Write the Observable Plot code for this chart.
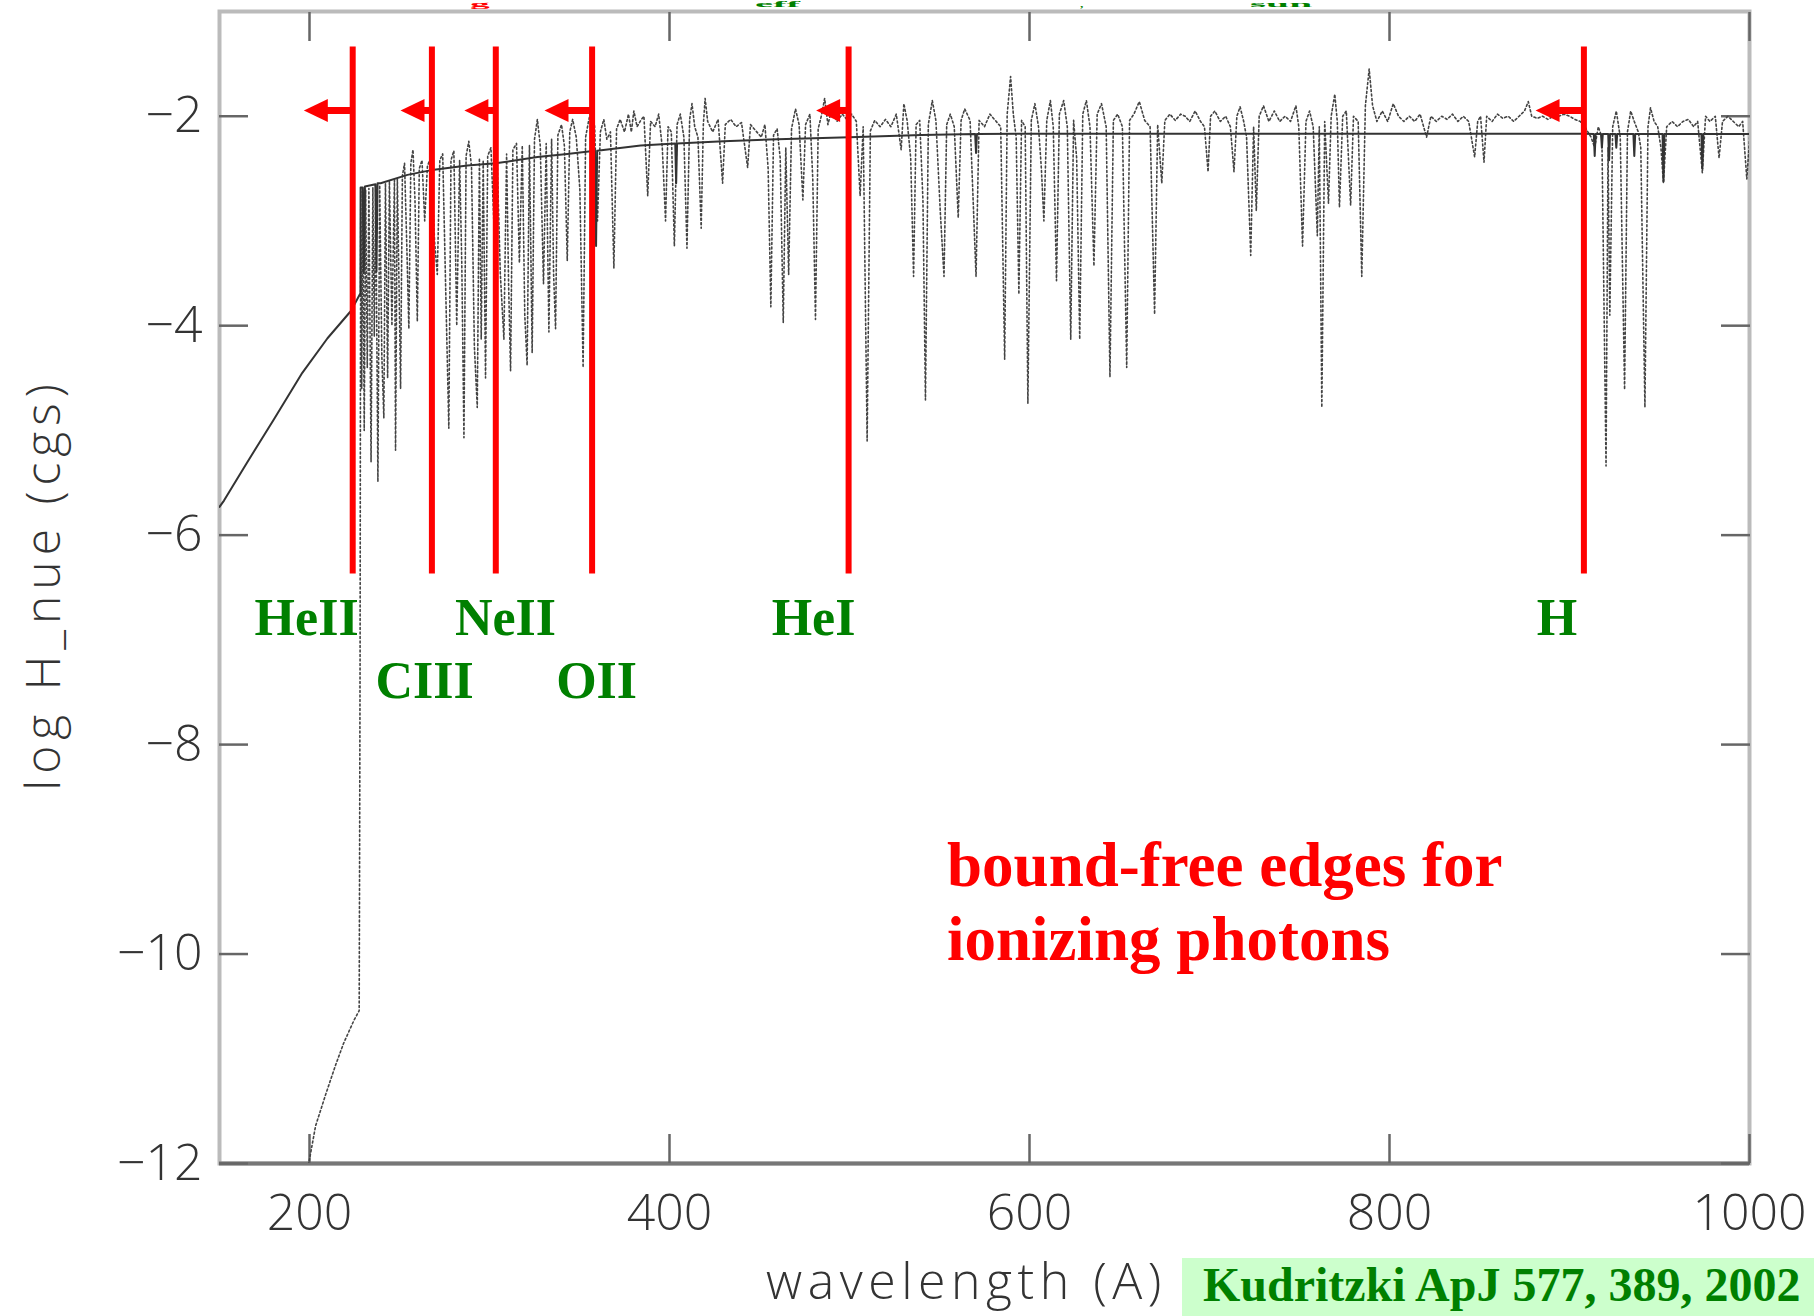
<!DOCTYPE html>
<html>
<head>
<meta charset="utf-8">
<script src="https://cdn.jsdelivr.net/npm/d3@7"></script>
<script src="https://cdn.jsdelivr.net/npm/@observablehq/plot@0.6"></script>
<style>
html, body { margin: 0; padding: 0; background: #fff; }
#wrap { position: relative; width: 1814px; height: 1316px; overflow: hidden; background: #fff; }
.frag { position: absolute; top: 0; font-family: "Liberation Serif", "Times New Roman", serif; font-weight: bold; line-height: 1; white-space: nowrap; font-size: 9px; transform-origin: 0 0; }
#ref { position: absolute; left: 1182px; top: 1258px; width: 632px; height: 58px; background: #ccffcc; }
#ref span { position: absolute; left: 21px; top: 3px; font-family: "Liberation Serif", "Times New Roman", serif; font-weight: bold; font-size: 48px; line-height: 1; color: #008000; white-space: nowrap; }
</style>
</head>
<body>
<div id="wrap"></div>
<script>
// ---------------- data ----------------
const xTicks = [200, 400, 600, 800, 1000];
const yTicks = [-2, -4, -6, -8, -10, -12];
const xDomain = [150, 1000];
const yDomain = [-12, -1];

const xTitle = "wavelength (A)";
const yTitle = "log H_nue (cgs)";
const noteText = "bound-free edges for\nionizing photons";
const noteWl = 554.2;
const noteLogH = -9.48;
const refText = "Kudritzki ApJ 577, 389, 2002";

// ionization edges (red markers) and labels
const edgeNames = ["HeII", "CIII", "NeII", "OII", "HeI", "H"];
const edgeWl = [224, 268, 303.5, 357, 499.5, 908];
const arrowShaftEndWl = [201.3, 255.0, 290.5, 335.0, 485.9, 885.6];
const labelWl = [198.4, 263.9, 308.9, 359.5, 480, 893];
const labelLogH = [-6.79, -7.40, -6.79, -7.40, -6.79, -6.79];
const edgeTopLogH = -1.34;
const edgeBottomLogH = -6.37;
const arrowLogH = -1.945;

// solid curve (continuum model): [wavelength, log H_nue]
const continuum = [
  [150,-5.73],[152.5,-5.67],[164.5,-5.33],[180,-4.9],[196,-4.45],[210,-4.12],[223,-3.86],[228.3,-3.69],
  [228.4,-2.68],[229.6,-2.68],[230.2,-3.5],[230.8,-2.67],[236.6,-2.65],[237.2,-3.48],[237.8,-2.64],[239.5,-2.64],
  [254.4,-2.56],[269.2,-2.51],[287.7,-2.47],[303.5,-2.45],[326.6,-2.39],[343.2,-2.36],[358.6,-2.33],[359.2,-3.24],
  [359.8,-2.33],[384,-2.28],[403.2,-2.26],[403.7,-2.64],[404.2,-2.26],[430,-2.24],[460,-2.22],[500,-2.2],[540,-2.18],
  [569.8,-2.17],[570.3,-2.35],[570.8,-2.17],[600,-2.167],[700,-2.167],[800,-2.167],[908,-2.167],
  [913.5,-2.17],[914,-2.38],[914.5,-2.17],[917.5,-2.17],[918,-2.3],[918.5,-2.17],[921.5,-2.17],[922,-2.42],[922.5,-2.17],
  [925.5,-2.17],[926,-2.3],[926.5,-2.17],[935.5,-2.17],[936,-2.38],[936.5,-2.17],[951.7,-2.17],[952.2,-2.62],[952.7,-2.17],
  [973.3,-2.17],[973.8,-2.5],[974.3,-2.17],[1000,-2.17]
];

// dotted curve (line-blanketed model): [wavelength, log H_nue]
const dottedSpectrum = [
  [198.5,-12.1],[203.4,-11.64],[209,-11.34],[214.5,-11.06],[219,-10.85],[224.5,-10.64],[227.6,-10.54],[227.8,-9.3],
  [228.1,-7.2],[228.3,-4.6],[228.5,-2.72],
  [229.0,-4.6],[229.6,-2.71],[230.4,-5.0],[231.2,-2.70],[232.1,-4.4],[233.0,-2.69],[234.2,-5.3],[235.2,-2.68],
  [236.0,-4.1],[236.8,-2.67],[238.0,-5.49],[239.0,-2.66],[240.2,-4.3],[241.3,-4.88],[242.2,-2.64],[243.4,-4.5],
  [244.4,-2.62],[245.8,-4.0],[247.2,-2.61],[247.8,-5.19],[248.8,-2.60],[250.0,-3.9],[250.6,-4.6],[251.6,-2.57],
  [252.8,-2.45],[254.0,-3.2],[255.2,-4.03],[256.3,-2.45],[257.5,-2.32],[258.6,-2.8],[259.9,-3.96],[261.0,-2.5],
  [262.5,-2.42],[264.0,-3.0],[265.5,-2.48],[267.5,-2.38],[269.5,-3.2],[271.0,-3.51],[272.4,-2.42],[274.0,-2.36],
  [275.6,-3.6],[277.4,-4.98],[278.6,-2.42],[280.2,-2.33],[281.8,-4.0],[283.4,-2.42],[284.6,-3.4],[285.8,-5.07],
  [287.0,-2.38],[288.5,-2.24],[290.0,-2.48],[291.6,-4.2],[293.2,-4.78],[294.4,-2.4],[295.4,-4.13],[296.5,-2.42],
  [297.8,-4.5],[299.0,-2.38],[300.8,-2.3],[302.4,-3.0],[304.2,-2.38],[306.0,-3.5],[308.0,-4.13],[309.5,-2.36],
  [310.6,-3.6],[311.7,-4.43],[313.0,-2.32],[315.0,-2.26],[316.6,-3.4],[318.2,-2.28],[319.6,-3.9],[320.9,-4.38],
  [322.2,-2.28],[323.7,-4.26],[325.0,-2.22],[326.6,-2.03],[328.2,-2.28],[330.0,-3.6],[331.5,-2.26],[333.0,-4.06],
  [334.5,-2.22],[335.6,-3.5],[336.7,-4.03],[338.0,-2.18],[340.0,-2.08],[341.6,-2.28],[343.2,-3.38],[344.6,-2.15],
  [346.2,-2.03],[348.2,-2.2],[350.2,-2.7],[352.0,-4.40],[353.4,-2.2],[355.0,-2.05],[356.8,-1.91],[358.4,-2.1],
  [360.0,-3.0],[361.6,-2.15],[363.5,-2.03],[365.2,-2.22],[367.2,-2.15],[369.1,-3.45],[370.6,-2.12],[372.6,-2.03],
  [375.0,-2.15],[377.2,-1.98],[378.8,-2.15],[380.2,-1.95],[382.0,-2.1],[384.0,-2.04],
  [385.8,-2.0],[387.9,-2.76],[389.5,-2.05],[392.0,-2.1],[394.0,-1.98],[396.0,-2.3],[397.8,-3.0],[399.2,-2.1],
  [401.0,-2.15],[402.7,-3.24],[404.2,-2.08],[406.0,-1.98],[408.0,-2.2],[409.7,-3.26],[411.2,-2.03],[412.5,-1.88],
  [414.0,-2.1],[415.8,-2.2],[417.6,-3.07],[418.8,-2.08],[419.8,-1.83],[421.2,-2.05],[424.0,-2.15],[427.0,-2.03],
  [429.5,-2.64],[431.0,-2.08],[434.0,-2.03],[437.0,-2.1],[440.0,-2.06],[443.4,-2.49],[445.0,-2.08],[448.0,-2.14],
  [451.0,-2.2],[453.0,-2.08],[454.8,-2.5],[456.3,-3.82],[457.8,-2.18],[459.8,-2.12],[461.5,-2.4],[463.2,-3.97],
  [464.6,-2.3],[466.2,-3.51],[467.8,-2.12],[470.0,-1.93],[472.0,-2.08],[474.1,-2.80],[475.6,-2.08],[478.0,-1.98],
  [479.6,-2.6],[481.1,-3.94],[482.6,-2.12],[484.6,-1.98],[486.2,-1.83],[488.0,-2.08],[490.2,-1.93],[493.0,-2.05],
  [496.0,-1.98],[499.0,-2.04],[501.2,-1.98],[503.8,-2.05],[505.9,-2.76],[507.6,-2.1],[509.8,-5.1],[511.6,-2.14],
  [514.0,-2.04],[517.0,-2.1],[520.0,-2.03],[523.0,-2.1],[526.0,-1.98],[528.7,-2.32],[530.2,-1.88],[532.0,-2.04],
  [534.0,-2.4],[535.6,-3.53],[537.0,-2.08],[539.0,-2.04],[540.8,-2.8],[542.2,-4.71],[543.8,-2.08],[546.0,-1.85],
  [548.0,-2.04],[550.4,-2.9],[552.5,-3.53],[554.0,-2.08],[556.0,-1.98],[558.2,-2.1],[560.4,-2.97],[562.0,-2.04],
  [564.0,-1.93],[567.0,-2.04],[570.3,-3.53],[572.0,-2.04],[575.0,-2.1],[578.0,-1.98],[581.0,-2.04],[584.0,-2.1],
  [586.2,-4.32],[587.6,-1.98],[589.5,-1.62],[591.0,-1.98],[592.6,-2.2],[594.1,-3.70],[595.6,-2.04],[597.6,-2.1],
  [599.1,-4.74],[601.0,-2.04],[603.0,-1.88],[605.0,-2.1],[606.6,-2.5],[608.0,-3.0],[609.6,-2.04],[611.6,-1.85],
  [613.2,-2.1],[615.0,-3.57],[616.6,-1.98],[619.0,-1.85],[621.0,-2.1],[622.9,-4.13],[624.5,-2.04],[626.2,-2.4],
  [627.9,-4.13],[629.6,-1.98],[631.6,-1.85],[633.6,-2.1],[635.8,-3.43],[637.6,-1.98],[640.0,-1.88],[642.6,-2.1],
  [644.7,-4.49],[646.6,-2.04],[649.0,-1.98],[651.6,-2.1],[654.0,-4.40],[655.6,-2.04],[658.0,-1.98],[661.0,-1.86],
  [664.0,-2.04],[667.0,-2.1],[669.5,-3.89],[671.2,-2.08],[673.5,-2.64],[675.2,-2.04],[678.0,-1.98],[681.0,-2.04],
  [684.0,-1.98],
  [686.5,-2.0],[689.0,-2.05],[692.0,-1.95],[695.0,-2.05],[697.2,-2.1],[699.2,-2.53],[700.6,-2.0],[703.0,-1.95],
  [706.0,-2.05],[709.0,-2.0],[711.6,-2.1],[713.6,-2.53],[715.2,-2.0],[717.0,-1.91],[719.0,-2.05],[720.6,-2.2],
  [722.9,-3.33],[724.5,-2.1],[726.0,-2.90],[727.6,-2.0],[730.0,-1.9],[733.0,-2.05],[736.0,-1.95],[739.0,-2.05],
  [742.0,-2.0],[745.0,-2.05],[748.0,-1.9],[749.6,-2.1],[751.7,-3.24],[753.6,-2.05],[755.6,-1.95],[757.6,-2.1],
  [759.9,-3.14],[761.0,-2.1],[762.4,-4.78],[764.0,-2.05],[766.1,-2.83],[767.6,-2.0],[769.6,-1.79],[771.0,-2.05],
  [772.2,-2.87],[774.0,-2.0],[776.0,-1.95],[778.4,-2.85],[780.0,-2.0],[782.6,-2.05],[784.6,-3.53],[786.6,-1.9],
  [788.7,-1.55],[790.6,-1.9],[793.0,-2.05],[796.0,-1.95],[799.0,-2.05],[802.1,-1.88],[805.0,-2.0],[808.0,-2.05],
  [811.0,-2.0],[814.0,-2.05],[817.0,-1.98],[820.6,-2.2],[823.0,-2.0],[826.0,-2.05],[829.0,-2.0],[832.0,-2.03],
  [835.0,-1.98],[838.0,-2.05],[841.0,-2.0],[844.0,-2.05],[847.3,-2.39],[849.0,-2.05],[850.6,-2.0],[852.5,-2.44],
  [854.0,-2.0],[857.0,-2.05],[860.0,-1.98],[863.0,-2.02],[866.0,-2.0],[869.0,-2.05],[872.0,-2.0],[875.0,-1.95],
  [877.1,-1.86],[879.0,-2.0],[882.0,-2.02],[885.0,-2.0],[888.0,-2.03],[891.0,-2.0],[894.0,-2.0],[897.0,-1.98],
  [900.0,-2.0],[903.0,-2.03],[906.0,-2.05],[908.6,-2.1],[910.2,-2.15],[912.0,-2.2],[914.0,-2.3],[916.0,-2.1],
  [918.0,-2.2],[920.3,-5.34],[921.4,-2.3],[922.4,-3.9],[924.0,-2.1],[926.0,-1.95],[928.2,-2.2],[930.6,-4.61],
  [932.2,-2.15],[934.0,-1.95],[936.0,-2.05],[938.2,-2.15],[939.6,-2.3],[941.9,-4.78],[943.6,-2.1],[945.0,-1.92],
  [947.0,-2.05],[949.0,-2.1],[950.8,-2.3],[952.2,-2.64],[954.0,-2.1],[957.0,-2.05],[960.0,-2.1],[963.0,-2.05],
  [966.0,-2.03],[969.0,-2.1],[971.2,-2.05],[973.8,-2.54],[975.6,-2.0],[978.0,-2.05],[981.0,-2.0],[983.1,-2.4],
  [985.0,-2.05],[988.0,-2.0],[991.0,-2.05],[994.0,-2.1],[996.2,-2.05],[998.5,-2.6],[1000.5,-2.1]
];

// ---------------- build chart ----------------
const edges = edgeNames.map((name, i) => ({
  name, wl: edgeWl[i], shaftEnd: arrowShaftEndWl[i], lx: labelWl[i], ly: labelLogH[i],
  top: edgeTopLogH, bottom: edgeBottomLogH, ay: arrowLogH
}));

const leftHead = {
  draw(ctx) {
    ctx.moveTo(0, 0);
    ctx.lineTo(24, -11.5);
    ctx.lineTo(24, 11.5);
    ctx.closePath();
  }
};

const axisFont = "'Open Sans', 'Liberation Sans', sans-serif";
const serif = "'Liberation Serif', 'Times New Roman', serif";

const chart = Plot.plot({
  width: 1814,
  height: 1316,
  marginLeft: 219,
  marginRight: 65,
  marginTop: 11,
  marginBottom: 153,
  style: { fontFamily: axisFont, fontWeight: 300, background: "white", color: "#333" },
  x: { domain: xDomain },
  y: { domain: yDomain },
  marks: [
    Plot.frame({ stroke: "#bbb", strokeWidth: 4 }),
    Plot.ruleY([yDomain[0]], { stroke: "#777", strokeWidth: 4 }),
    Plot.axisX(xTicks, { anchor: "bottom", tickSize: -29, tickPadding: 60, stroke: "#666", strokeWidth: 2.5,
      fontSize: 50, fill: "#333", label: null, tickFormat: d => String(d) }),
    Plot.axisX(xTicks, { anchor: "top", tickSize: -29, stroke: "#666", strokeWidth: 2.5, label: null, tickFormat: () => "" }),
    Plot.axisY(yTicks, { anchor: "left", tickSize: -29, tickPadding: 46, stroke: "#666", strokeWidth: 2.5,
      fontSize: 50, fill: "#333", label: null, tickFormat: d => "\u2212" + Math.abs(d) }),
    Plot.axisY(yTicks, { anchor: "right", tickSize: -29, stroke: "#666", strokeWidth: 2.5, label: null, tickFormat: () => "" }),

    Plot.line(dottedSpectrum, { x: d => d[0], y: d => d[1], stroke: "#444", strokeWidth: 1.6,
      strokeDasharray: "2,2.5", clip: true }),
    Plot.line(continuum, { x: d => d[0], y: d => d[1], stroke: "#333", strokeWidth: 2, clip: true }),

    Plot.ruleX(edges, { x: "wl", y1: "top", y2: "bottom", stroke: "red", strokeWidth: 6 }),
    Plot.link(edges, { x1: "wl", x2: "shaftEnd", y1: "ay", y2: "ay", stroke: "red", strokeWidth: 7 }),
    Plot.dot(edges, { x: "shaftEnd", y: "ay", dx: -8, symbol: leftHead, fill: "red", stroke: null, r: 12 }),

    Plot.text(edges, { x: "lx", y: "ly", text: "name", fill: "#008000", fontSize: 52, fontWeight: "bold",
      fontFamily: serif, lineAnchor: "middle" }),
    Plot.text([noteText], { x: noteWl, y: noteLogH, text: d => d, textAnchor: "start", lineAnchor: "middle",
      lineHeight: 1.16, fill: "red", fontSize: 63, fontWeight: "bold", fontFamily: serif }),

    Plot.text([xTitle], { frameAnchor: "bottom", dy: 119, dx: -18, text: d => d, fontSize: 50,
      fill: "#333", textAnchor: "middle", lineAnchor: "middle" }),
    Plot.text([yTitle], { frameAnchor: "left", dx: -175, dy: -3, rotate: -90, text: d => d, fontSize: 48,
      fill: "#333", textAnchor: "middle", lineAnchor: "middle" })
  ]
});

chart.querySelectorAll("text").forEach(t => {
  if (t.textContent === xTitle) t.style.letterSpacing = "5.5px";
  if (t.textContent === yTitle) t.style.letterSpacing = "6px";
});

const wrap = document.getElementById("wrap");
wrap.appendChild(chart);

// small heading fragments along the top edge (bottoms of a cropped heading in the reference)
const frags = [
  { text: "g", left: 470, stretch: 4.4, color: "red" },
  { text: "eff", left: 755, stretch: 4.5, color: "#008000" },
  { text: ",", left: 1080, stretch: 1.5, color: "#008000" },
  { text: "sun", left: 1250, stretch: 4.6, color: "#008000" }
];
frags.forEach(f => {
  const s = document.createElement("div");
  s.className = "frag";
  s.textContent = f.text;
  s.style.left = f.left + "px";
  s.style.color = f.color;
  s.style.transform = "scaleX(" + f.stretch + ")";
  wrap.appendChild(s);
});

// reference box at bottom right
const ref = document.createElement("div");
ref.id = "ref";
const refSpan = document.createElement("span");
refSpan.textContent = refText;
ref.appendChild(refSpan);
wrap.appendChild(ref);
</script>
</body>
</html>
